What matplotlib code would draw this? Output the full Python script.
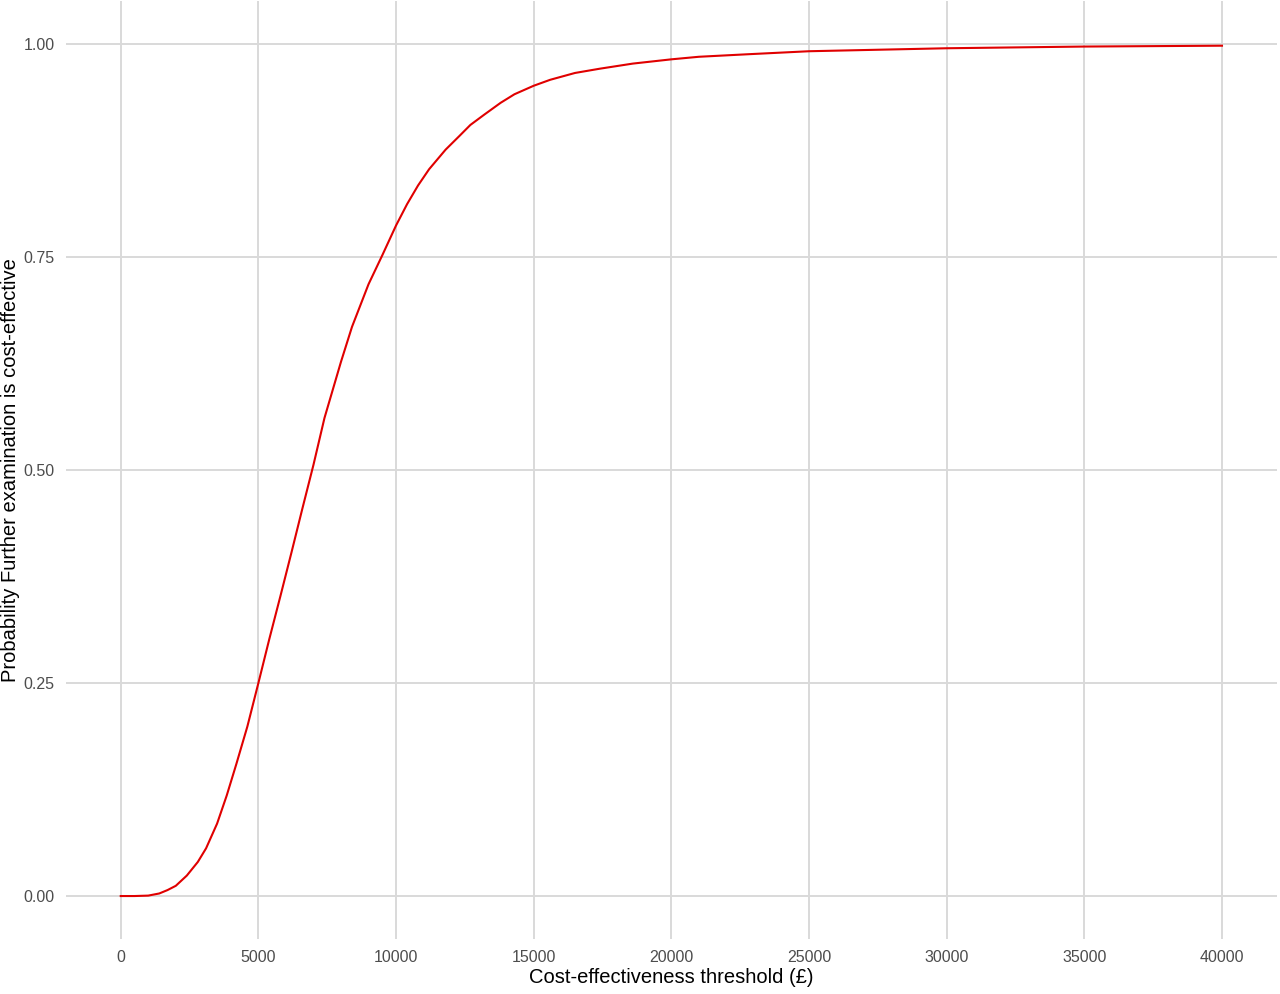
import matplotlib
matplotlib.use("Agg")
import matplotlib.pyplot as plt

# cost-effectiveness acceptability curve
thresholds = [0, 500, 1000, 1400, 1700, 2000, 2400, 2800, 3100, 3500, 3850, 4200,
              4600, 5000, 5400, 5800, 6200, 6600, 7000, 7400, 8000, 8400, 9000,
              9500, 10000, 10400, 10800, 11200, 11800, 12300, 12700, 13200, 13800,
              14300, 15000, 15600, 16500, 17400, 18600, 20000, 21000, 22800,
              25000, 30000, 35000, 40000]
prob_ce = [0.0, 0.0, 0.0005, 0.003, 0.007, 0.012, 0.024, 0.04, 0.056, 0.085, 0.118,
           0.155, 0.199, 0.25, 0.302, 0.352, 0.403, 0.455, 0.506, 0.561, 0.627,
           0.668, 0.718, 0.752, 0.787, 0.812, 0.834, 0.853, 0.876, 0.892, 0.905,
           0.917, 0.931, 0.941, 0.951, 0.958, 0.966, 0.971, 0.977, 0.982, 0.985,
           0.988, 0.9915, 0.995, 0.997, 0.998]

x_ticks = [0, 5000, 10000, 15000, 20000, 25000, 30000, 35000, 40000]
y_ticks = [0.0, 0.25, 0.5, 0.75, 1.0]
y_labels = ["0.00", "0.25", "0.50", "0.75", "1.00"]

plt.rcParams['font.family'] = ['Liberation Sans', 'DejaVu Sans']

fig = plt.figure(figsize=(12.8, 9.94), dpi=100)
ax = fig.add_axes([0.0513, 0.0557, 0.9464, 0.9429])

ax.plot(thresholds, prob_ce, color="#E00000", lw=1.5, zorder=3)

ax.set_xlim(-2000, 42000)
ax.set_ylim(-0.05, 1.05)
ax.set_xticks(x_ticks)
ax.set_xticklabels([str(t) for t in x_ticks])
ax.set_yticks(y_ticks)
ax.set_yticklabels(y_labels)

# theme_minimal look
ax.grid(True, color="#D9D9D9", lw=1.4)
ax.set_axisbelow(True)
for s in ax.spines.values():
    s.set_visible(False)
ax.tick_params(length=0, labelsize=11.5, labelcolor="#4D4D4D", pad=8)

ax.set_xlabel("Cost-effectiveness threshold (£)", fontsize=14.5, labelpad=2)
# y title placed by hand so it stays inside the figure
fig.text(11 / 1280, 1 - 470 / 994, "Probability Further examination is cost-effective",
         rotation=90, ha="center", va="center", fontsize=14.5)

fig.savefig("out.png", dpi=100)
